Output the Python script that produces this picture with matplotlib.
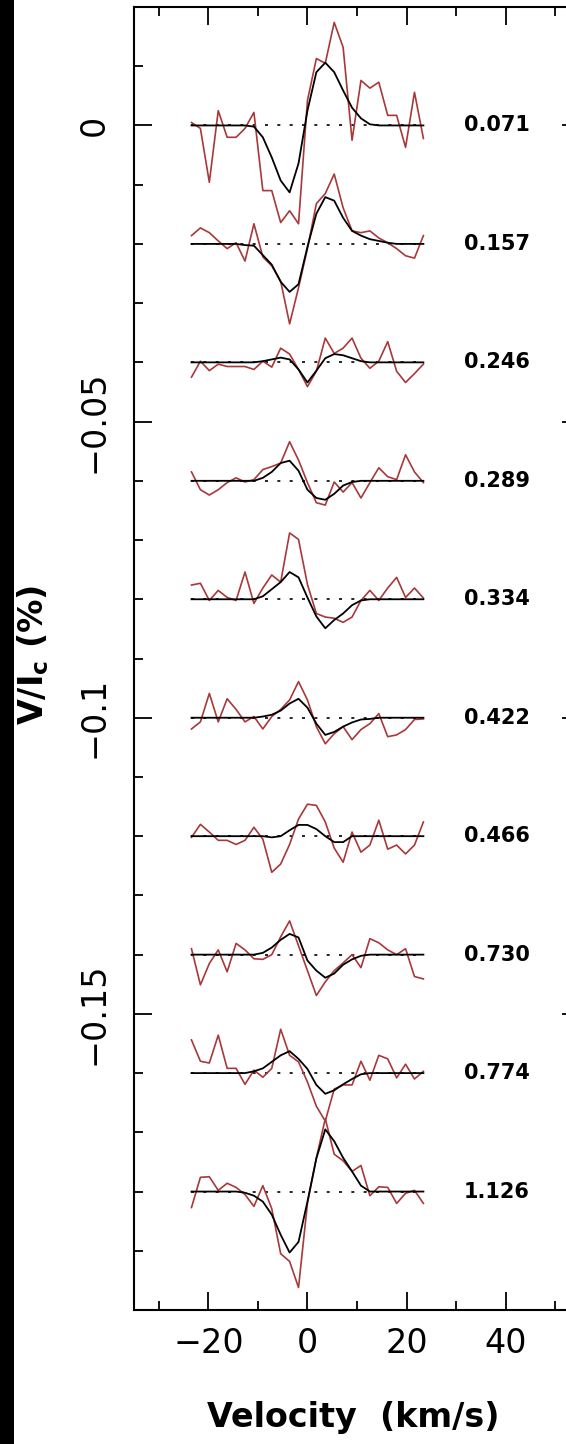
import numpy as np
import matplotlib
matplotlib.use('Agg')
import matplotlib.pyplot as plt
from matplotlib.ticker import MultipleLocator
from matplotlib.patches import Rectangle

# ---------------- data ----------------
velocity = [-23.4, -21.6, -19.8, -18.0, -16.2, -14.4, -12.6, -10.8, -9.0,
            -7.2, -5.4, -3.6, -1.8, 0.0, 1.8, 3.6, 5.4, 7.2, 9.0, 10.8,
            12.6, 14.4, 16.2, 18.0, 19.8, 21.6, 23.4]

phases = ['0.071', '0.157', '0.246', '0.289', '0.334',
          '0.422', '0.466', '0.730', '0.774', '1.126']

obs_071 = [0.0005, -0.0005, -0.0096, 0.0025, -0.0020, -0.0020, -0.0005, 0.0022, -0.0110,
           -0.0110, -0.0164, -0.0144, -0.0166, 0.0042, 0.0113, 0.0105, 0.0174, 0.0132,
           -0.0025, 0.0076, 0.0063, 0.0073, 0.0017, 0.0017, -0.0037, 0.0056, -0.0022]
mod_071 = [0, 0, 0, 0, 0, 0, 0, -0.0002, -0.0020, -0.0054, -0.0093, -0.0113, -0.0064,
           0.0025, 0.0090, 0.0106, 0.0090, 0.0059, 0.0030, 0.0012, 0.0002, 0, 0, 0, 0, 0, 0]

obs_157 = [0.0014, 0.0027, 0.0019, 0.0005, -0.0008, 0.0002, -0.0029, 0.0034, -0.0022,
           -0.0037, -0.0063, -0.0135, -0.0074, -0.0008, 0.0068, 0.0085, 0.0118, 0.0061,
           0.0022, 0.0019, 0.0022, 0.0010, 0.0002, -0.0008, -0.0020, -0.0024, 0.0014]
mod_157 = [0, 0, 0, 0, 0, 0, -0.0002, -0.0003, -0.0019, -0.0035, -0.0064, -0.0081, -0.0068,
           -0.0005, 0.0051, 0.0079, 0.0073, 0.0044, 0.0022, 0.0014, 0.0008, 0.0005, 0.0002,
           0, 0, 0, 0]

obs_246 = [-0.0025, 0.0002, -0.0014, -0.0003, -0.0007, -0.0007, -0.0007, -0.0012, 0.0002,
           -0.0008, 0.0024, 0.0014, -0.0012, -0.0041, -0.0015, 0.0041, 0.0015, 0.0024,
           0.0041, 0.0007, -0.0010, 0.0002, 0.0035, -0.0015, -0.0034, -0.0019, -0.0003]
mod_246 = [0, 0, 0, 0, 0, 0, 0, 0, 0.0002, 0.0005, 0.0008, 0.0005, -0.0012, -0.0034,
           -0.0014, 0.0007, 0.0014, 0.0012, 0.0007, 0.0002, 0, 0, 0, 0, 0, 0, 0]

obs_289 = [0.0015, -0.0015, -0.0024, -0.0015, -0.0003, 0.0005, -0.0002, 0.0002, 0.0019,
           0.0024, 0.0030, 0.0066, 0.0035, -0.0003, -0.0037, -0.0041, -0.0002, -0.0019,
           -0.0003, -0.0029, -0.0003, 0.0022, 0.0007, 0.0002, 0.0044, 0.0015, -0.0003]
mod_289 = [0, 0, 0, 0, 0, 0, 0, 0, 0.0005, 0.0015, 0.0030, 0.0034, 0.0017, -0.0015,
           -0.0029, -0.0032, -0.0022, -0.0008, -0.0002, 0, 0, 0, 0, 0, 0, 0, 0]

obs_334 = [0.0024, 0.0027, -0.0002, 0.0015, 0.0003, -0.0002, 0.0046, -0.0007, 0.0019,
           0.0041, 0.0029, 0.0112, 0.0101, 0.0025, -0.0024, -0.0030, -0.0032, -0.0039,
           -0.0030, -0.0002, 0.0015, -0.0002, 0.0019, 0.0037, 0.0003, 0.0019, 0.0002]
mod_334 = [0, 0, 0, 0, 0, 0, 0, 0, 0.0005, 0.0017, 0.0029, 0.0046, 0.0037, 0.0003,
           -0.0029, -0.0049, -0.0035, -0.0024, -0.0010, -0.0002, 0, 0, 0, 0, 0, 0, 0]

obs_422 = [-0.0019, -0.0007, 0.0041, -0.0007, 0.0032, 0.0014, -0.0007, 0.0002, -0.0019,
           0.0002, 0.0014, 0.0030, 0.0061, 0.0030, -0.0015, -0.0044, -0.0027, -0.0015,
           -0.0037, -0.0020, -0.0010, 0.0007, -0.0032, -0.0029, -0.0020, -0.0003, -0.0002]
mod_422 = [0, 0, 0, 0, 0, 0, 0, 0, 0.0002, 0.0005, 0.0012, 0.0024, 0.0032, 0.0017,
           -0.0010, -0.0029, -0.0024, -0.0015, -0.0008, -0.0003, -0.0002, 0, 0, 0, 0, 0, 0]

obs_466 = [-0.0002, 0.0020, 0.0007, -0.0007, -0.0007, -0.0014, -0.0007, 0.0015, -0.0005,
           -0.0061, -0.0047, -0.0014, 0.0029, 0.0054, 0.0052, 0.0024, -0.0020, -0.0044,
           0.0007, -0.0027, -0.0015, 0.0027, -0.0022, -0.0015, -0.0030, -0.0015, 0.0024]
mod_466 = [0, 0, 0, 0, 0, 0, 0, 0, 0, -0.0002, 0, 0.0010, 0.0019, 0.0019, 0.0012, 0,
           -0.0010, -0.0010, 0, 0, 0, 0, 0, 0, 0, 0, 0]

obs_730 = [0.0010, -0.0051, -0.0015, 0.0008, -0.0029, 0.0019, 0.0008, -0.0007, -0.0008,
           0.0000, 0.0030, 0.0057, 0.0015, -0.0027, -0.0069, -0.0046, -0.0027, -0.0014,
           0.0000, -0.0022, 0.0027, 0.0020, 0.0008, 0.0000, 0.0010, -0.0037, -0.0041]
mod_730 = [0, 0, 0, 0, 0, 0, 0, 0, 0.0003, 0.0012, 0.0025, 0.0035, 0.0029, -0.0010,
           -0.0027, -0.0039, -0.0032, -0.0017, -0.0008, -0.0002, 0, 0, 0, 0, 0, 0, 0]

obs_774 = [0.0056, 0.0020, 0.0017, 0.0064, 0.0008, 0.0008, -0.0019, 0.0005, -0.0007,
           0.0008, 0.0074, 0.0030, 0.0019, -0.0015, -0.0056, -0.0081, -0.0027, -0.0020,
           -0.0020, 0.0020, -0.0012, 0.0030, 0.0024, -0.0008, 0.0015, -0.0010, 0.0003]
mod_774 = [0, 0, 0, 0, 0, 0, 0, 0.0003, 0.0008, 0.0019, 0.0030, 0.0037, 0.0024, 0.0007,
           -0.0020, -0.0035, -0.0029, -0.0019, -0.0010, -0.0002, 0, 0, 0, 0, 0, 0, 0]

obs_1126 = [-0.0027, 0.0024, 0.0025, 0.0002, 0.0014, 0.0007, -0.0005, -0.0025, 0.0010,
            -0.0029, -0.0105, -0.0118, -0.0162, -0.0020, 0.0057, 0.0123, 0.0063, 0.0052,
            0.0034, 0.0044, -0.0007, 0.0008, 0.0007, -0.0020, -0.0003, 0.0002, -0.0020]
mod_1126 = [0, 0, 0, 0, 0, 0, -0.0002, -0.0007, -0.0017, -0.0039, -0.0073, -0.0103,
            -0.0085, -0.0017, 0.0056, 0.0105, 0.0085, 0.0057, 0.0034, 0.0010, 0, 0, 0, 0,
            0, 0, 0]

observed = [obs_071, obs_157, obs_246, obs_289, obs_334,
            obs_422, obs_466, obs_730, obs_774, obs_1126]
models = [mod_071, mod_157, mod_246, mod_289, mod_334,
          mod_422, mod_466, mod_730, mod_774, mod_1126]

xtick_values = [-20, 0, 20, 40]
xtick_labels = ['\u221220', '0', '20', '40']
ytick_values = [0, -0.05, -0.1, -0.15]
ytick_labels = ['0', '\u22120.05', '\u22120.1', '\u22120.15']

# ---------------- figure ----------------
W, H = 566, 1444
fig = plt.figure(figsize=(W / 100, H / 100), dpi=100)
fig.patch.set_facecolor('white')
fig.patches.append(Rectangle((0, 0), 14 / W, 1, transform=fig.transFigure,
                             facecolor='black', edgecolor='none', zorder=0))

ax_left, ax_right, ax_top, ax_bot = 134, 580, 7, 1310
ax = fig.add_axes([ax_left / W, 1 - ax_bot / H, (ax_right - ax_left) / W,
                   (ax_bot - ax_top) / H])

spacing = 0.02
v = np.array(velocity)
for i, (obs, mod, ph) in enumerate(zip(observed, models, phases)):
    off = -spacing * i
    ax.plot([v[0], v[-1]], [off, off], color='black', lw=1.2,
            linestyle=(0, (1.8, 5.6)), zorder=2)
    ax.plot(v, np.array(obs) + off, color='#a8383a', lw=1.2, zorder=3)
    ax.plot(v, np.array(mod) + off, color='black', lw=1.3, zorder=4)
    ax.text(31.5, off, ph, fontsize=15, fontweight='bold', ha='left',
            va='center', color='black')

ax.set_xlim(-35, 55)
ax.set_ylim(-0.2, 0.02)

ax.set_xticks(xtick_values, xtick_labels)
ax.set_yticks(ytick_values, ytick_labels)
ax.xaxis.set_minor_locator(MultipleLocator(10))
ax.yaxis.set_minor_locator(MultipleLocator(0.01))

ax.tick_params(which='both', direction='in', top=True, right=True, width=1.3,
               color='black')
ax.tick_params(which='major', length=13)
ax.tick_params(which='minor', length=6.5)
ax.tick_params(axis='x', which='major', labelsize=24, pad=12)
ax.tick_params(axis='y', which='major', labelsize=24, pad=17)
for lab in ax.get_yticklabels():
    lab.set_rotation(90)
    lab.set_va('center')
    lab.set_ha('right')

for s in ax.spines.values():
    s.set_linewidth(1.5)

ax.set_xlabel('Velocity  (km/s)', fontsize=24, fontweight='bold')
ax.xaxis.set_label_coords((353 - ax_left) / (ax_right - ax_left),
                          -(1418 - ax_bot) / (ax_bot - ax_top))
ax.xaxis.label.set_va('center')

ax.set_ylabel(r'V/I$_{\mathbf{c}}$ (%)', fontsize=24, fontweight='bold')
ax.yaxis.set_label_coords((33 - ax_left) / (ax_right - ax_left),
                          (ax_bot - 655) / (ax_bot - ax_top))
ax.yaxis.label.set_va('center')
ax.yaxis.label.set_ha('center')

fig.savefig('out.png', dpi=100)
